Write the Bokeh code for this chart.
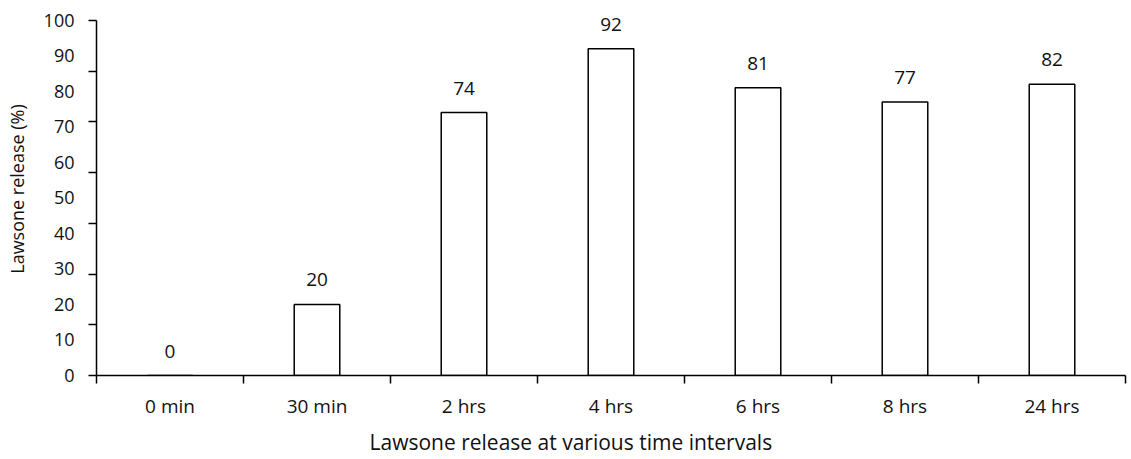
from bokeh.plotting import figure
from bokeh.models import FixedTicker, ColumnDataSource, Range1d, Title
from bokeh.embed import file_html
from bokeh.resources import INLINE
from bokeh.core.properties import value

categories = ["0 min", "30 min", "2 hrs", "4 hrs", "6 hrs", "8 hrs", "24 hrs"]
release = [0, 20, 74, 92, 81, 77, 82]
bar_labels = ["0", "20", "74", "92", "81", "77", "82"]
y_labels = [0, 10, 20, 30, 40, 50, 60, 70, 80, 90, 100]
x_title = "Lawsone release at various time intervals"
y_title = "Lawsone release (%)"

FONT = "Open Sans"
TXT = "#111111"
xs = list(range(len(categories)))
src = ColumnDataSource(dict(x=xs, top=release, lab=bar_labels))

p = figure(width=1131, height=459, output_backend="svg", toolbar_location=None,
           x_range=Range1d(-0.5, len(categories) - 0.5), y_range=Range1d(0, 105),
           min_border_left=96, min_border_right=6, min_border_top=2, min_border_bottom=83)
p.outline_line_color = None
p.background_fill_color = "white"
p.border_fill_color = "white"
p.xgrid.visible = False
p.ygrid.visible = False

p.vbar(x="x", top="top", width=0.31, bottom=0, source=src,
       fill_color="white", line_color="black", line_width=1.5)
p.text(x="x", y="top", text="lab", source=src, text_align="center", text_baseline="bottom",
       y_offset=-18, text_font=value(FONT), text_font_size="19px", text_color=TXT)

# x axis: labels at centers, tick marks at boundaries
xa = p.xaxis[0]
xa.ticker = FixedTicker(ticks=xs, minor_ticks=[i - 0.5 for i in range(len(categories) + 1)])
xa.major_label_overrides = {i: c for i, c in enumerate(categories)}
xa.major_tick_out = 0
xa.major_tick_in = 0
xa.minor_tick_out = 8
xa.minor_tick_in = 0
xa.minor_tick_line_color = "black"
xa.minor_tick_line_width = 1.5
xa.axis_line_width = 1.5
xa.axis_line_color = "black"
xa.major_label_standoff = 9
xa.major_label_text_font = FONT
xa.major_label_text_font_size = "19px"
xa.major_label_text_color = TXT

# x title, left-shifted like the reference
t = Title(text=x_title, align="left", offset=273, standoff=8,
          text_font=FONT, text_font_size="21px", text_font_style="normal", text_color=TXT)
p.add_layout(t, "below")

# y axis: labels every 10, tick marks every 100/7
ya = p.yaxis[0]
ya.bounds = (0, 100)
ya.ticker = FixedTicker(ticks=y_labels, minor_ticks=[k * 100 / 7 for k in range(8)])
ya.major_tick_out = 0
ya.major_tick_in = 0
ya.minor_tick_out = 8
ya.minor_tick_in = 0
ya.minor_tick_line_color = "black"
ya.minor_tick_line_width = 1.5
ya.axis_line_width = 1.5
ya.axis_line_color = "black"
ya.major_label_standoff = 14
ya.major_label_text_font = FONT
ya.major_label_text_font_size = "18px"
ya.major_label_text_color = TXT
ya.axis_label = y_title
ya.axis_label_text_font = FONT
ya.axis_label_text_font_size = "18px"
ya.axis_label_text_font_style = "normal"
ya.axis_label_text_color = TXT
ya.axis_label_standoff = 12

open("out.html", "w").write(file_html(p, INLINE))
